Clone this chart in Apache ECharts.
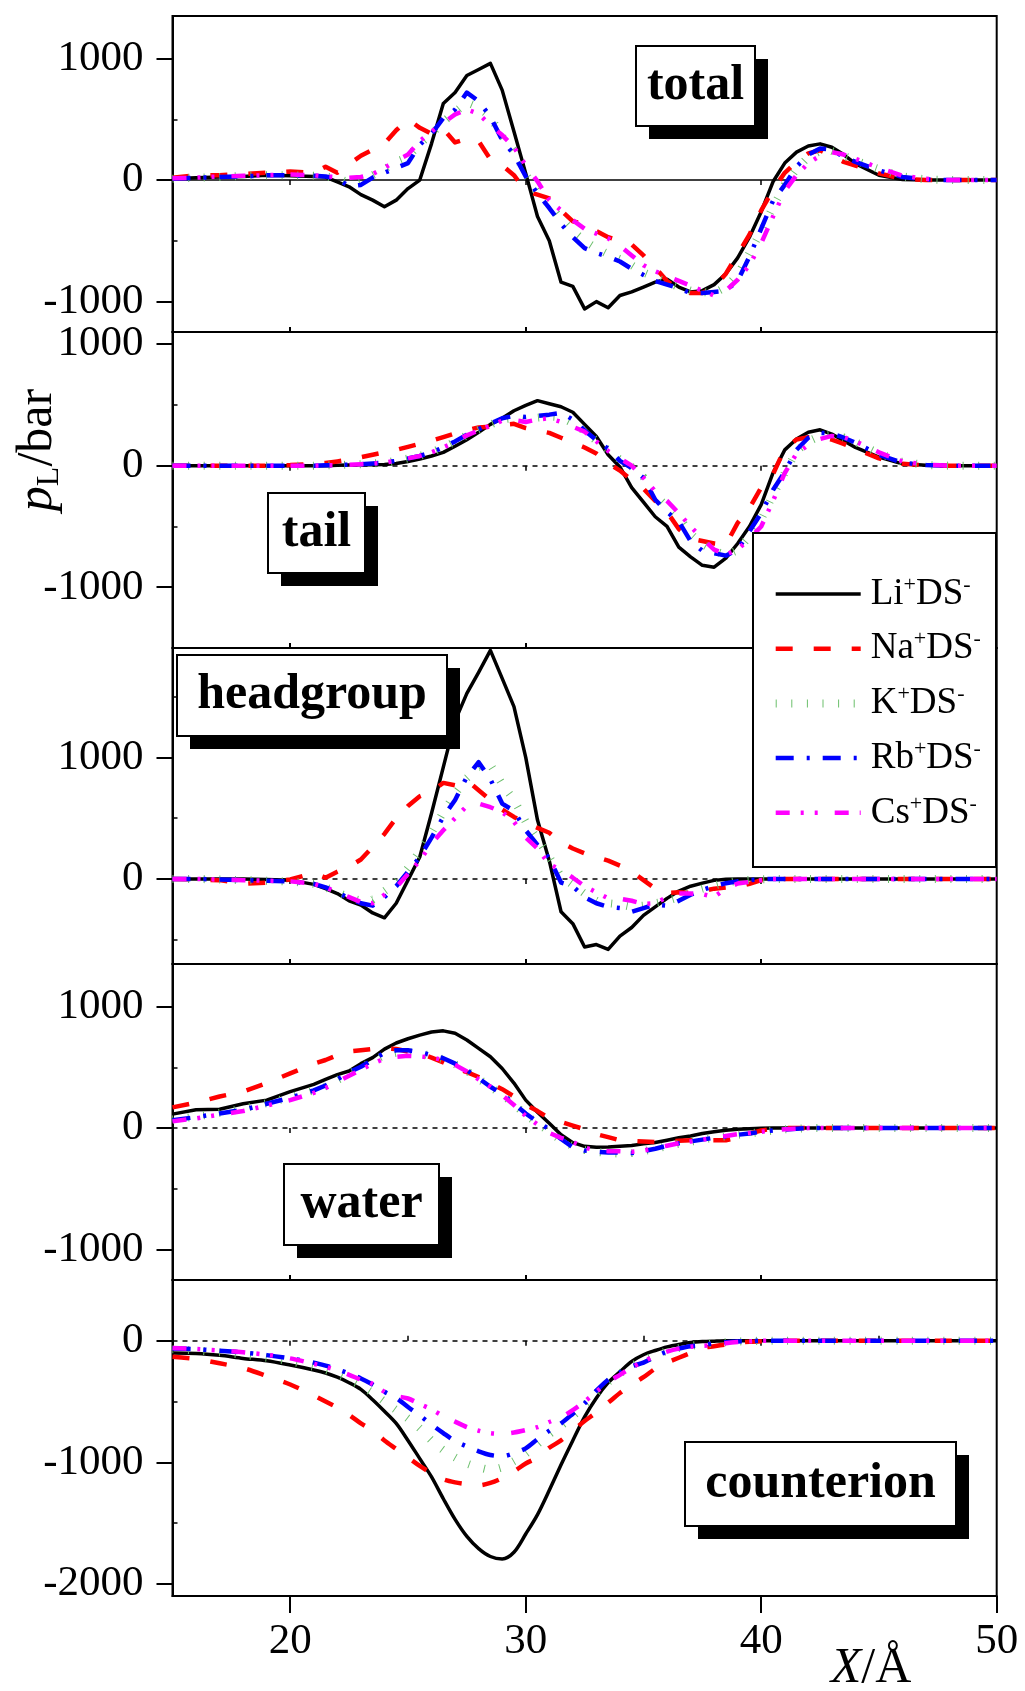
<!DOCTYPE html>
<html><head><meta charset="utf-8">
<script src="https://cdn.jsdelivr.net/npm/echarts@6/dist/echarts.min.js"></script>
<style>html,body{margin:0;padding:0;background:#fff}#c{width:1025px;height:1691px}</style>
</head><body><div id="c"></div>
<script>
const xs = [15,16,17,18,19,20,21,21.5,22,22.5,23,23.5,24,24.5,25,25.5,26,26.5,27,27.5,28,28.5,29,29.5,30,30.5,31,31.5,32,32.5,33,33.5,34,34.5,35,35.5,36,36.5,37,37.5,38,38.5,39,39.5,40,40.5,41,41.5,42,42.5,43,43.5,44,45,46,47,48,50];

const totalLi = [10,20,25,30,40,35,30, 25,-15,-55,-120,-165,-220,-165,-70, 0,300,630,720,860,910,960,740, 400,55,-300,-500,-840,-875,-1060,-1000, -1050,-950,-920,-880,-840,-815,-880,-920, -910,-860,-770,-640,-470,-260,-14,140, 230,280,298,270,210,135, 40,5,0,0,0];
const totalNa = [20,40,40,50,60,70,60, 110,60,130,200,250,300,410,500, 430,380,420,310,340,320,170,120, 40,-90,-120,-150,-250,-340,-360,-420, -470,-500,-530,-620,-720,-830,-900,-930, -930,-880,-770,-610,-450,-250,-80,60, 150,220,245,195,150,120, 55,10,0,0,0];
const totalK = [10,20,25,35,40,40,35, 30,15,-20,0,40,90,150,190, 300,380,480,560,640,600,520,360, 240,50,-100,-200,-320,-420,-500,-560, -610,-650,-700,-760,-800,-840,-880,-910, -920,-930,-880,-780,-600,-420,-220,-40, 90,190,240,240,200,160, 90,30,5,0,0];
const totalRb = [10,20,25,30,40,40,35, 30,10,-50,-40,20,60,100,140, 290,380,510,580,720,650,520,330, 210,30,-110,-230,-360,-470,-560,-600, -630,-670,-730,-780,-830,-860,-890,-930, -930,-920,-910,-830,-630,-400,-170,-40, 110,210,260,250,190,150, 80,25,5,0,0];
const totalCs = [15,20,30,35,40,45,40, 30,25,20,25,50,100,160,210, 320,400,470,540,580,545,450,370, 270,120,-10,-165,-250,-330,-400,-440, -480,-540,-620,-700,-750,-790,-830,-870, -910,-950,-910,-820,-700,-520,-300,-90, 40,140,200,230,210,175, 100,35,10,0,0];

const tailLi = [0,0,0,0,0,0,0, 0,3,5,7,8,10,18,35, 55,80,110,160,214,275,340,390, 452,496,535,510,485,440,340,240, 90,-10,-180,-300,-420,-500,-670,-750, -820,-835,-760,-640,-500,-320,-60,130, 220,275,295,260,205,150, 70,15,3,0,0];
const tailNa = [0,0,0,0,0,5,15, 22,35,50,70,90,110,130,155, 180,205,235,265,290,315,320,335, 345,310,290,270,230,190,150,100, 20,-40,-120,-190,-290,-380,-520,-600, -620,-640,-650,-470,-350,-180,-70,140, 215,235,235,215,180,140, 60,15,3,0,0];
const tailK = [0,0,0,0,0,0,0, 3,5,8,12,18,25,40,60, 80,110,150,198,252,295,338,380, 392,380,395,405,398,350,285,205, 130,50,-10,-95,-245,-335,-420,-560, -645,-700,-735,-695,-580,-440,-240,-60, 120,200,245,255,232,195, 100,30,6,0,0];
const tailRb = [0,0,0,0,0,0,0, 3,5,8,12,18,25,40,60, 80,110,150,200,255,300,345,390, 410,400,410,420,435,380,290,210, 140,40,-20,-100,-280,-380,-460,-620, -700,-720,-740,-690,-540,-390,-200,-50, 130,230,270,265,230,190, 90,25,5,0,0];
const tailCs = [0,0,0,0,0,0,0, 3,5,8,12,18,25,40,60, 80,110,150,195,250,290,330,370, 375,360,380,390,360,320,280,200, 120,60,0,-100,-210,-290,-390,-500, -600,-690,-730,-690,-600,-500,-290,-60, 100,170,220,245,235,200, 110,35,8,0,0];

const headLi = [0,0,0,0,-5,-10,-45, -80,-120,-180,-215,-280,-320,-200,-10, 180,540,920,1300,1527,1700,1880,1650, 1418,1000,484,150,-270,-368,-560,-540, -580,-470,-400,-300,-230,-160,-100,-60, -35,-12,-3,0,0,0,0,0, 0,0,0,0,0,0, 0,0,0,0,0];
const headNa = [0,-5,-10,-40,-30,-5,50, 10,60,100,160,264,370,500,600, 680,720,790,770,810,730,650,570, 510,460,420,380,300,250,210,180, 150,110,60,-10,-80,-115,-110,-115, -100,-80,-70,-66,-40,-10,-3,0, 0,0,0,0,0,0, 0,0,0,0,0];
const headK = [0,0,-5,-10,-15,-20,-40, -70,-110,-150,-180,-170,-100,-30,90, 230,380,550,700,830,920,940,780, 650,470,330,180,20,-50,-120,-180, -200,-210,-230,-220,-200,-180,-150,-110, -80,-55,-30,-15,-8,-3,0,0, 0,0,0,0,0,0, 0,0,0,0,0];
const headRb = [0,0,-5,-10,-15,-20,-40, -70,-110,-160,-200,-220,-150,-60,60, 180,340,510,650,840,960,820,620, 560,400,280,170,-30,-60,-150,-200, -230,-240,-270,-240,-210,-220,-180,-130, -90,-60,-35,-20,-10,-3,0,0, 0,0,0,0,0,0, 0,0,0,0,0];
const headCs = [0,0,-5,-10,-15,-20,-40, -70,-110,-150,-190,-200,-130,-70,40, 150,290,400,500,600,620,590,550, 470,340,250,120,75,10,-60,-110, -160,-162,-180,-205,-200,-150,-121,-120, -125,-148,-80,-38,-25,-10,0,0, 0,0,0,0,0,0, 0,0,0,0,0];

const waterLi = [115,150,155,200,230,300,360, 400,440,470,530,580,650,700,735, 765,790,800,780,725,656,587,490, 370,230,130,40,-55,-120,-150,-157, -155,-150,-143,-130,-118,-100,-80,-65, -45,-30,-18,-10,-5,-2,0,0, 0,0,0,0,0,0, 0,0,0,0,0];
const waterNa = [170,210,260,300,370,450,530, 560,600,630,640,650,656,650,630, 614,580,540,495,460,420,370,320, 260,190,140,80,50,20,-10,-50, -75,-100,-105,-110,-115,-110,-105,-100, -100,-100,-100,-80,-45,-20,-5,0, 0,0,0,0,0,0, 0,0,0,0,0];
const waterK = [70,95,125,160,205,255,310, 345,395,450,500,550,600,620,625, 615,595,565,525,470,405,340,275, 195,110,40,-30,-100,-150,-180,-195, -205,-210,-205,-190,-170,-148,-128,-112, -95,-80,-68,-55,-45,-32,-20,-10, -5,0,0,0,0,0, 0,0,0,0,0];
const waterRb = [65,90,120,150,200,250,310, 350,400,460,505,560,620,640,640, 625,600,575,530,477,410,340,280, 200,120,50,-10,-90,-157,-185,-195, -200,-200,-205,-190,-170,-145,-125,-110, -95,-80,-70,-55,-45,-30,-20,-12, -5,0,0,0,0,0, 0,0,0,0,0];
const waterCs = [55,80,110,140,185,230,290, 330,380,430,480,530,570,585,595, 590,580,560,520,465,400,340,270, 190,100,30,-40,-80,-115,-160,-185, -190,-190,-195,-185,-165,-145,-125,-110, -95,-80,-65,-50,-40,-30,-20,-10, -5,0,0,0,0,0, 0,0,0,0,0];

const counterLi = [-100,-104,-120,-145,-165,-200,-240, -265,-300,-345,-400,-485,-580,-680,-820, -970,-1120,-1300,-1470,-1610,-1710,-1775,-1795, -1740,-1590,-1430,-1230,-1020,-820,-626,-470, -345,-255,-170,-115,-80,-50,-30,-15, -7,-3,0,0,0,0,0,0, 0,0,0,0,0,0, 0,0,0,0,0];
const counterNa = [-132,-150,-185,-225,-290,-360,-450, -500,-550,-610,-680,-740,-820,-890,-960, -1030,-1090,-1140,-1165,-1180,-1190,-1170,-1130, -1075,-1010,-960,-880,-820,-740,-660,-590, -510,-430,-360,-300,-230,-180,-140,-100, -60,-45,-30,-15,-8,-4,0,0, 0,0,0,0,0,0, 0,0,0,0,0];
const counterK = [-70,-80,-95,-115,-140,-170,-215, -240,-275,-320,-370,-430,-500,-570,-640, -720,-820,-900,-960,-1010,-1040,-1060,-1040, -990,-930,-850,-770,-700,-620,-530,-430, -340,-270,-205,-160,-120,-85,-60,-42, -30,-20,-12,-6,-3,0,0,0, 0,0,0,0,0,0, 0,0,0,0,0];
const counterRb = [-63,-70,-82,-97,-118,-145,-180, -205,-235,-270,-310,-360,-420,-470,-545, -615,-690,-760,-825,-870,-910,-940,-950, -925,-885,-810,-740,-680,-600,-516,-410, -320,-260,-210,-180,-130,-90,-65,-45, -36,-20,-12,-6,-3,0,0,0, 0,0,0,0,0,0, 0,0,0,0,0];
const counterCs = [-60,-68,-80,-95,-115,-145,-190, -215,-245,-280,-320,-355,-420,-455,-475, -520,-565,-620,-665,-710,-740,-760,-765, -755,-735,-710,-668,-630,-570,-500,-420, -340,-280,-220,-170,-125,-90,-65,-50, -42,-36,-20,-10,-5,0,0,0, 0,0,0,0,0,0, 0,0,0,0,0];

const ions = ['Li','Na','K','Rb','Cs'];
const panelLabels = ['total','tail','headgroup','water','counterion'];
const panelData = [
  [totalLi,totalNa,totalK,totalRb,totalCs],
  [tailLi,tailNa,tailK,tailRb,tailCs],
  [headLi,headNa,headK,headRb,headCs],
  [waterLi,waterNa,waterK,waterRb,waterCs],
  [counterLi,counterNa,counterK,counterRb,counterCs]
];
const yMin = [-1250,-1500,-700,-1250,-2100];
const yMax = [1350,1100,1900,1350,500];
const yTicks = [[-1000,0,1000],[-1000,0,1000],[0,1000],[-1000,0,1000],[-2000,-1000,0]];
const yMinor = [[-500,500],[-500,500],[-500,500,1500],[-500,500],[-1500,-500]];
const xTicks = [20,30,40,50];
const xInner = [20,30,40];
const xMinor = [25,35,45];

const FONT = "'Liberation Serif','Times New Roman',serif";
const lineStyles = {
  Li: {color:'#000000', width:3.5, type:'solid'},
  Na: {color:'#ff0000', width:4.5, type:[17,21]},
  K:  {color:'#6cbf6c', width:8, type:[1,14.6]},
  Rb: {color:'#0000ff', width:4.5, type:[18,13,3,13]},
  Cs: {color:'#ff00ff', width:4.5, type:[14,11,3,11,3,17]}
};

const GL = 172.5, GR = 28.3, GT = 16, GH = 316;
const grids = [], xAxes = [], yAxes = [], series = [];
for (let i = 0; i < 5; i++) {
  grids.push({left:GL, right:GR, top:GT + GH*i, height:GH, show:true, borderColor:'#000', borderWidth:2, backgroundColor:'rgba(0,0,0,0)'});
  const last = i === 4;
  const mainX = xAxes.length;
  xAxes.push({gridIndex:i, type:'value', min:15, max:50, position:'bottom',
    axisLine:{show:true, onZero:false, lineStyle:{color:'#000', width:2}},
    axisTick:{show:true, inside:!last, length:last?17:5, customValues:last?xTicks:xInner, lineStyle:{color:'#000', width:2}},
    axisLabel:{show:last, customValues:xTicks, margin:24, fontSize:43, fontFamily:FONT, color:'#000', formatter:v=>String(v)},
    splitLine:{show:false}});
  xAxes.push({gridIndex:i, type:'value', min:15, max:50, position:'top',
    axisLine:{show:false}, axisTick:{show:true, inside:true, length:5, customValues:xInner, lineStyle:{color:'#000', width:1.5}},
    axisLabel:{show:false}, splitLine:{show:false}});
  if (last) {
    xAxes.push({gridIndex:i, type:'value', min:15, max:50, position:'bottom',
      axisLine:{show:false}, axisTick:{show:true, inside:true, length:5, customValues:xMinor, lineStyle:{color:'#000', width:1.5}},
      axisLabel:{show:false}, splitLine:{show:false}});
  }
  const mainY = yAxes.length;
  yAxes.push({gridIndex:i, type:'value', min:yMin[i], max:yMax[i], position:'left',
    axisLine:{show:true, onZero:false, lineStyle:{color:'#000', width:2}},
    axisTick:{show:true, inside:false, length:16, customValues:yTicks[i], lineStyle:{color:'#000', width:2}},
    axisLabel:{show:true, customValues:yTicks[i], margin:29, fontSize:43, fontFamily:FONT, color:'#000', formatter:v=>String(v)},
    splitLine:{show:false}});
  yAxes.push({gridIndex:i, type:'value', min:yMin[i], max:yMax[i], position:'left',
    axisLine:{show:false}, axisTick:{show:true, inside:true, length:5, customValues:yMinor[i], lineStyle:{color:'#000', width:1.5}},
    axisLabel:{show:false}, splitLine:{show:false}});
  ions.forEach((ion, k) => {
    const s = {
      type:'line', name:ion, xAxisIndex:mainX, yAxisIndex:mainY,
      data: xs.map((x, j) => [x, panelData[i][k][j]]),
      showSymbol:false, symbol:'none', smooth: last ? 0.3 : false,
      lineStyle:{color:lineStyles[ion].color, width:lineStyles[ion].width, type:lineStyles[ion].type, cap:'butt', join:'round'},
      itemStyle:{color:lineStyles[ion].color},
      silent:true, animation:false, z:2
    };
    if (k === 0) {
      s.markLine = {silent:true, symbol:'none', animation:false, z:1, label:{show:false},
        lineStyle:{color:'#000', width:1.5, type: i === 0 ? 'solid' : [5,5]},
        data:[{yAxis:0}]};
    }
    series.push(s);
  });
}

function labelBox(text, x, y, w, h) {
  return [
    {type:'rect', z:25, shape:{x:x+13, y:y+13, width:w, height:h}, style:{fill:'#000'}},
    {type:'rect', z:26, shape:{x:x, y:y, width:w, height:h}, style:{fill:'#fff', stroke:'#000', lineWidth:2}},
    {type:'text', z:27, x:x + w/2, y:y + h/2, style:{text:text, fontFamily:FONT, fontWeight:'bold', fontSize:50, fill:'#000', align:'center', verticalAlign:'middle'}}
  ];
}
const boxPos = [[636,46,119,80],[268,493,97,80],[177,655,270,81],[284,1164,155,81],[685,1442,271,84]];
let graphics = [];
panelLabels.forEach((t, i) => { graphics = graphics.concat(labelBox(t, ...boxPos[i])); });
graphics.push({type:'rect', z:28, shape:{x:753, y:533, width:243, height:334}, style:{fill:'#fff', stroke:'#000', lineWidth:2}});
graphics.push({type:'text', z:30, x:38, y:450, rotation:Math.PI/2,
  style:{text:'{i|p}{s|L}{n|/bar}', align:'center', verticalAlign:'middle', fill:'#000',
    rich:{i:{fontFamily:FONT, fontStyle:'italic', fontSize:50, lineHeight:56},
          s:{fontFamily:FONT, fontSize:32, lineHeight:34, verticalAlign:'bottom'},
          n:{fontFamily:FONT, fontSize:50, lineHeight:56}}}});
graphics.push({type:'text', z:30, x:871, y:1669,
  style:{text:'{i|X}{n|/Å}', align:'center', verticalAlign:'middle', fill:'#000',
    rich:{i:{fontFamily:FONT, fontStyle:'italic', fontSize:50, lineHeight:56},
          n:{fontFamily:FONT, fontSize:50, lineHeight:56}}}});

const legendData = ions.map(ion => ({
  name: ion,
  itemStyle: {opacity: 0, borderWidth: 0},
  lineStyle: {width: lineStyles[ion].width, type: lineStyles[ion].type, color: lineStyles[ion].color, cap: 'butt', opacity: 1}
}));

const chart = echarts.init(document.getElementById('c'), null, {renderer:'canvas'});
chart.setOption({
  animation:false,
  backgroundColor:'#fff',
  grid:grids, xAxis:xAxes, yAxis:yAxes, series:series,
  legend:{z:40, orient:'vertical', left:771.7, top:574, padding:0, itemWidth:85, itemHeight:14, itemGap:14.7,
    selectedMode:false, data:legendData,
    itemStyle:{opacity:0, borderWidth:0},
    formatter: name => '{g| }{n|' + name + '}{s|+}{n|DS}{s|-}',
    textStyle:{fontFamily:FONT, fontSize:37, color:'#000', lineHeight:40,
      rich:{g:{fontFamily:FONT, fontSize:20, lineHeight:40},
            n:{fontFamily:FONT, fontSize:37, lineHeight:40},
            s:{fontFamily:FONT, fontSize:22, lineHeight:22, verticalAlign:'top'}}}},
  graphic:{elements:graphics}
});
</script></body></html>
